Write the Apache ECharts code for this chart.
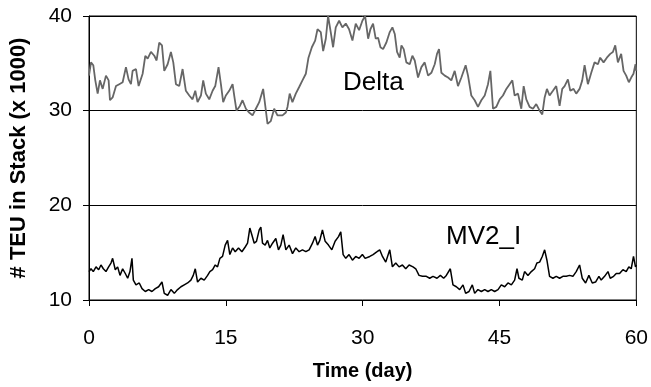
<!DOCTYPE html>
<html>
<head>
<meta charset="utf-8">
<script src="https://cdn.jsdelivr.net/npm/echarts@6/dist/echarts.min.js"></script>
<style>
html,body{margin:0;padding:0;background:#fff;}
#chart{width:651px;height:387px;}
</style>
</head>
<body>
<div id="chart"></div>
<script>
// Tick labels
const xTicks = [0, 15, 30, 45, 60];
const yTicks = [10, 20, 30, 40];

// Delta series (time in days, TEU x 1000)
const deltaT = [0,0.22,0.47,0.69,0.95,1.2,1.5,1.86,2.15,2.3,2.59,2.96,3.32,3.69,4.05,4.34,4.6,4.78,5.15,5.44,5.88,6.17,6.43,6.79,7.16,7.41,7.7,8.0,8.25,8.62,8.98,9.24,9.53,9.89,10.26,10.62,10.99,11.35,11.65,11.9,12.27,12.52,12.81,13.18,13.55,13.84,14.2,14.46,14.71,15.0,15.37,15.74,15.92,16.17,16.54,16.83,17.2,17.56,17.93,18.29,18.66,19.09,19.39,19.57,19.93,20.3,20.66,21.21,21.58,21.76,22.0,22.3,22.67,23.04,23.4,23.77,24.06,24.43,24.79,25.05,25.41,25.67,25.96,26.21,26.5,26.76,27.05,27.42,27.78,28.15,28.51,28.88,29.24,29.61,29.97,30.27,
  30.6,30.85,31.14,31.43,31.69,31.95,32.24,32.6,32.97,33.26,33.52,33.77,34.06,34.25,34.5,34.79,35.16,35.45,35.71,36.07,36.44,36.8,37.17,37.53,37.9,38.15,38.37,38.63,39.0,39.36,39.72,40.09,40.45,40.82,41.29,41.55,41.91,42.28,42.64,43.01,43.38,43.74,44.0,44.29,44.65,45.02,45.38,45.75,46.11,46.41,46.66,47.03,47.39,47.65,47.94,48.3,48.67,49.03,49.4,49.69,49.95,50.2,50.49,50.86,51.22,51.59,51.88,52.14,52.5,52.76,53.12,53.41,53.78,54.07,54.33,54.69,55.06,55.42,55.79,56.04,56.41,56.77,57.14,57.43,57.69,57.98,58.34,58.6,58.89,59.18,59.44,59.69,59.91,60];
const deltaV = [33.7,35.1,34.8,33.2,31.8,33.2,32.3,33.7,33.2,31.1,31.4,32.6,32.8,33.0,34.6,33.3,32.8,34.2,34.4,32.6,33.9,35.8,35.5,36.2,35.8,35.3,37.2,36.9,34.2,34.9,36.2,35.1,32.8,32.6,34.4,32.1,31.6,31.2,32.1,30.9,31.6,33.2,31.8,31.2,32.1,32.6,34.6,32.8,30.9,31.6,32.1,32.8,31.6,30.0,30.5,31.1,30.2,29.8,29.5,30.2,30.9,32.3,30.0,28.6,28.9,30.2,29.5,29.5,29.8,30.4,31.8,30.9,31.8,32.5,33.2,33.9,35.6,36.7,37.4,38.6,38.3,36.3,37.6,40.0,38.3,36.7,38.8,39.5,38.8,39.2,38.6,37.4,39.2,38.5,39.5,40.0,
  37.6,38.6,39.2,37.6,37.7,36.7,36.5,37.2,38.3,38.8,38.1,36.2,35.6,36.9,36.5,35.1,34.9,35.8,35.3,33.5,34.6,35.1,33.7,34.0,34.9,36.0,36.5,34.0,33.7,33.5,33.2,34.2,32.6,33.5,34.8,33.7,31.6,31.1,30.4,31.1,31.6,32.8,34.2,30.2,30.4,31.2,31.6,32.3,32.8,33.2,31.6,31.8,30.2,32.6,31.2,30.4,30.2,30.7,30.0,29.6,31.4,32.3,31.6,32.1,32.6,30.5,32.3,32.6,33.3,32.1,32.3,31.8,32.3,33.2,34.8,32.8,34.0,35.1,34.9,35.6,35.1,35.6,36.0,36.2,36.9,35.1,36.0,34.2,33.7,33.0,33.5,33.9,34.9,34.2];

// MV2_I series
const mvT = [0,0.22,0.47,0.77,1.06,1.31,1.57,1.86,2.15,2.41,2.59,2.88,3.14,3.4,3.69,3.98,4.24,4.49,4.71,4.86,5.15,5.51,5.81,6.17,6.54,6.9,7.27,7.63,8.0,8.25,8.62,8.98,9.35,9.71,10.08,10.44,10.81,11.17,11.43,11.65,11.9,12.27,12.63,13.0,13.25,13.55,13.84,14.09,14.35,14.64,14.93,15.19,15.44,15.74,16.03,16.39,16.76,17.12,17.38,17.63,17.85,18.11,18.36,18.66,18.84,19.02,19.31,19.57,19.82,20.12,20.48,20.77,21.03,21.28,21.58,21.94,22.31,22.67,23.04,23.4,23.77,24.13,24.5,24.79,25.05,25.3,25.59,25.89,26.25,26.62,26.98,27.35,27.6,27.86,28.15,28.51,28.88,29.24,29.61,29.97,30.27,
  30.78,31.14,31.58,31.87,32.17,32.53,32.97,33.26,33.63,33.99,34.36,34.72,35.09,35.52,35.82,36.18,36.55,36.98,37.35,37.71,38.15,38.52,38.88,39.17,39.61,39.9,40.27,40.64,41.0,41.29,41.66,42.02,42.28,42.64,43.01,43.38,43.74,44.1,44.47,44.84,45.2,45.57,45.93,46.3,46.66,46.92,47.13,47.5,47.75,48.12,48.49,48.85,49.1,49.4,49.69,49.95,50.2,50.49,50.86,51.22,51.59,51.95,52.32,52.68,53.05,53.41,53.78,54.07,54.44,54.8,55.17,55.53,55.9,56.15,56.52,56.89,57.14,57.51,57.8,58.16,58.53,58.89,59.18,59.44,59.69,59.91,60];
const mvV = [13.0,13.3,13.0,13.5,13.2,13.7,13.3,13.0,13.5,13.9,14.4,13.2,13.5,12.6,13.3,12.8,12.3,13.0,14.4,12.1,11.6,11.8,11.2,10.9,11.1,10.9,11.2,11.4,11.9,10.7,10.5,11.1,10.7,11.1,11.4,11.6,11.8,12.1,12.6,13.3,11.9,12.3,12.1,12.6,13.0,13.2,13.7,13.5,14.4,14.6,15.8,16.3,14.8,15.5,15.1,15.5,15.1,15.6,16.0,17.6,16.9,16.0,16.2,17.4,17.7,16.0,15.8,16.3,15.5,16.0,16.5,15.3,15.8,16.9,15.3,15.8,14.9,15.5,15.1,15.3,15.1,15.3,16.0,16.7,15.8,16.3,17.4,16.2,15.8,15.3,16.2,16.7,17.2,14.8,14.4,14.8,14.2,14.6,14.4,14.8,14.4,
  14.6,14.8,15.1,15.3,14.6,14.0,15.3,13.5,13.9,13.5,13.7,13.3,13.7,13.5,13.3,12.6,12.5,12.5,12.3,12.5,12.3,12.6,12.3,12.6,13.3,11.6,11.4,11.1,11.6,10.7,10.9,11.6,10.7,11.1,10.9,11.1,10.9,11.1,10.9,11.1,11.6,11.4,11.8,11.6,12.1,13.3,12.3,12.1,13.0,12.6,13.0,13.3,13.9,14.0,14.6,15.3,14.2,12.5,12.3,12.5,12.3,12.5,12.5,12.6,12.5,13.0,13.7,12.3,11.8,12.6,11.8,11.9,12.5,12.1,12.5,13.0,12.3,12.5,12.8,12.8,13.2,13.0,13.5,13.3,14.6,13.5,13.7];

const zip = (t, v) => t.map((x, i) => [x, v[i]]);

const chart = echarts.init(document.getElementById('chart'), null, {renderer: 'canvas'});
const FONT = 'Liberation Sans, Arial, Helvetica, sans-serif';
chart.setOption({
  animation: false,
  backgroundColor: '#fff',
  grid: {left: 89, right: 14, top: 16, bottom: 87, show: true, borderColor: '#000', borderWidth: 1},
  xAxis: {
    type: 'value', min: xTicks[0], max: xTicks[xTicks.length - 1], interval: 15,
    name: 'Time (day)', nameLocation: 'middle', nameGap: 61,
    nameTextStyle: {fontFamily: FONT, fontSize: 20, fontWeight: 'bold', color: '#000'},
    axisLine: {show: true, lineStyle: {color: '#000', width: 1}},
    axisTick: {show: true, length: 6, lineStyle: {color: '#000'}},
    axisLabel: {fontFamily: FONT, fontSize: 21, color: '#000', margin: 28},
    splitLine: {show: false}
  },
  yAxis: {
    type: 'value', min: yTicks[0], max: yTicks[yTicks.length - 1], interval: 10,
    name: '# TEU in Stack (x 1000)', nameLocation: 'middle', nameGap: 59, nameRotate: 90,
    nameTextStyle: {fontFamily: FONT, fontSize: 22, fontWeight: 'bold', color: '#000'},
    axisLine: {show: true, lineStyle: {color: '#000', width: 1}},
    axisTick: {show: true, length: 6, lineStyle: {color: '#000'}},
    axisLabel: {fontFamily: FONT, fontSize: 21, color: '#000', margin: 17},
    splitLine: {show: true, lineStyle: {color: '#000', width: 1}}
  },
  graphic: [
    {type: 'text', left: 343, top: 70, style: {text: 'Delta', font: '26px ' + FONT, fill: '#000'}},
    {type: 'text', left: 446, top: 224, style: {text: 'MV2_I', font: '26px ' + FONT, fill: '#000'}}
  ],
  series: [
    {name: 'Delta', type: 'line', data: zip(deltaT, deltaV), showSymbol: false, symbol: 'none',
     lineStyle: {color: '#666666', width: 1.8}},
    {name: 'MV2_I', type: 'line', data: zip(mvT, mvV), showSymbol: false, symbol: 'none',
     lineStyle: {color: '#000', width: 1.5}}
  ]
});
</script>
</body>
</html>
